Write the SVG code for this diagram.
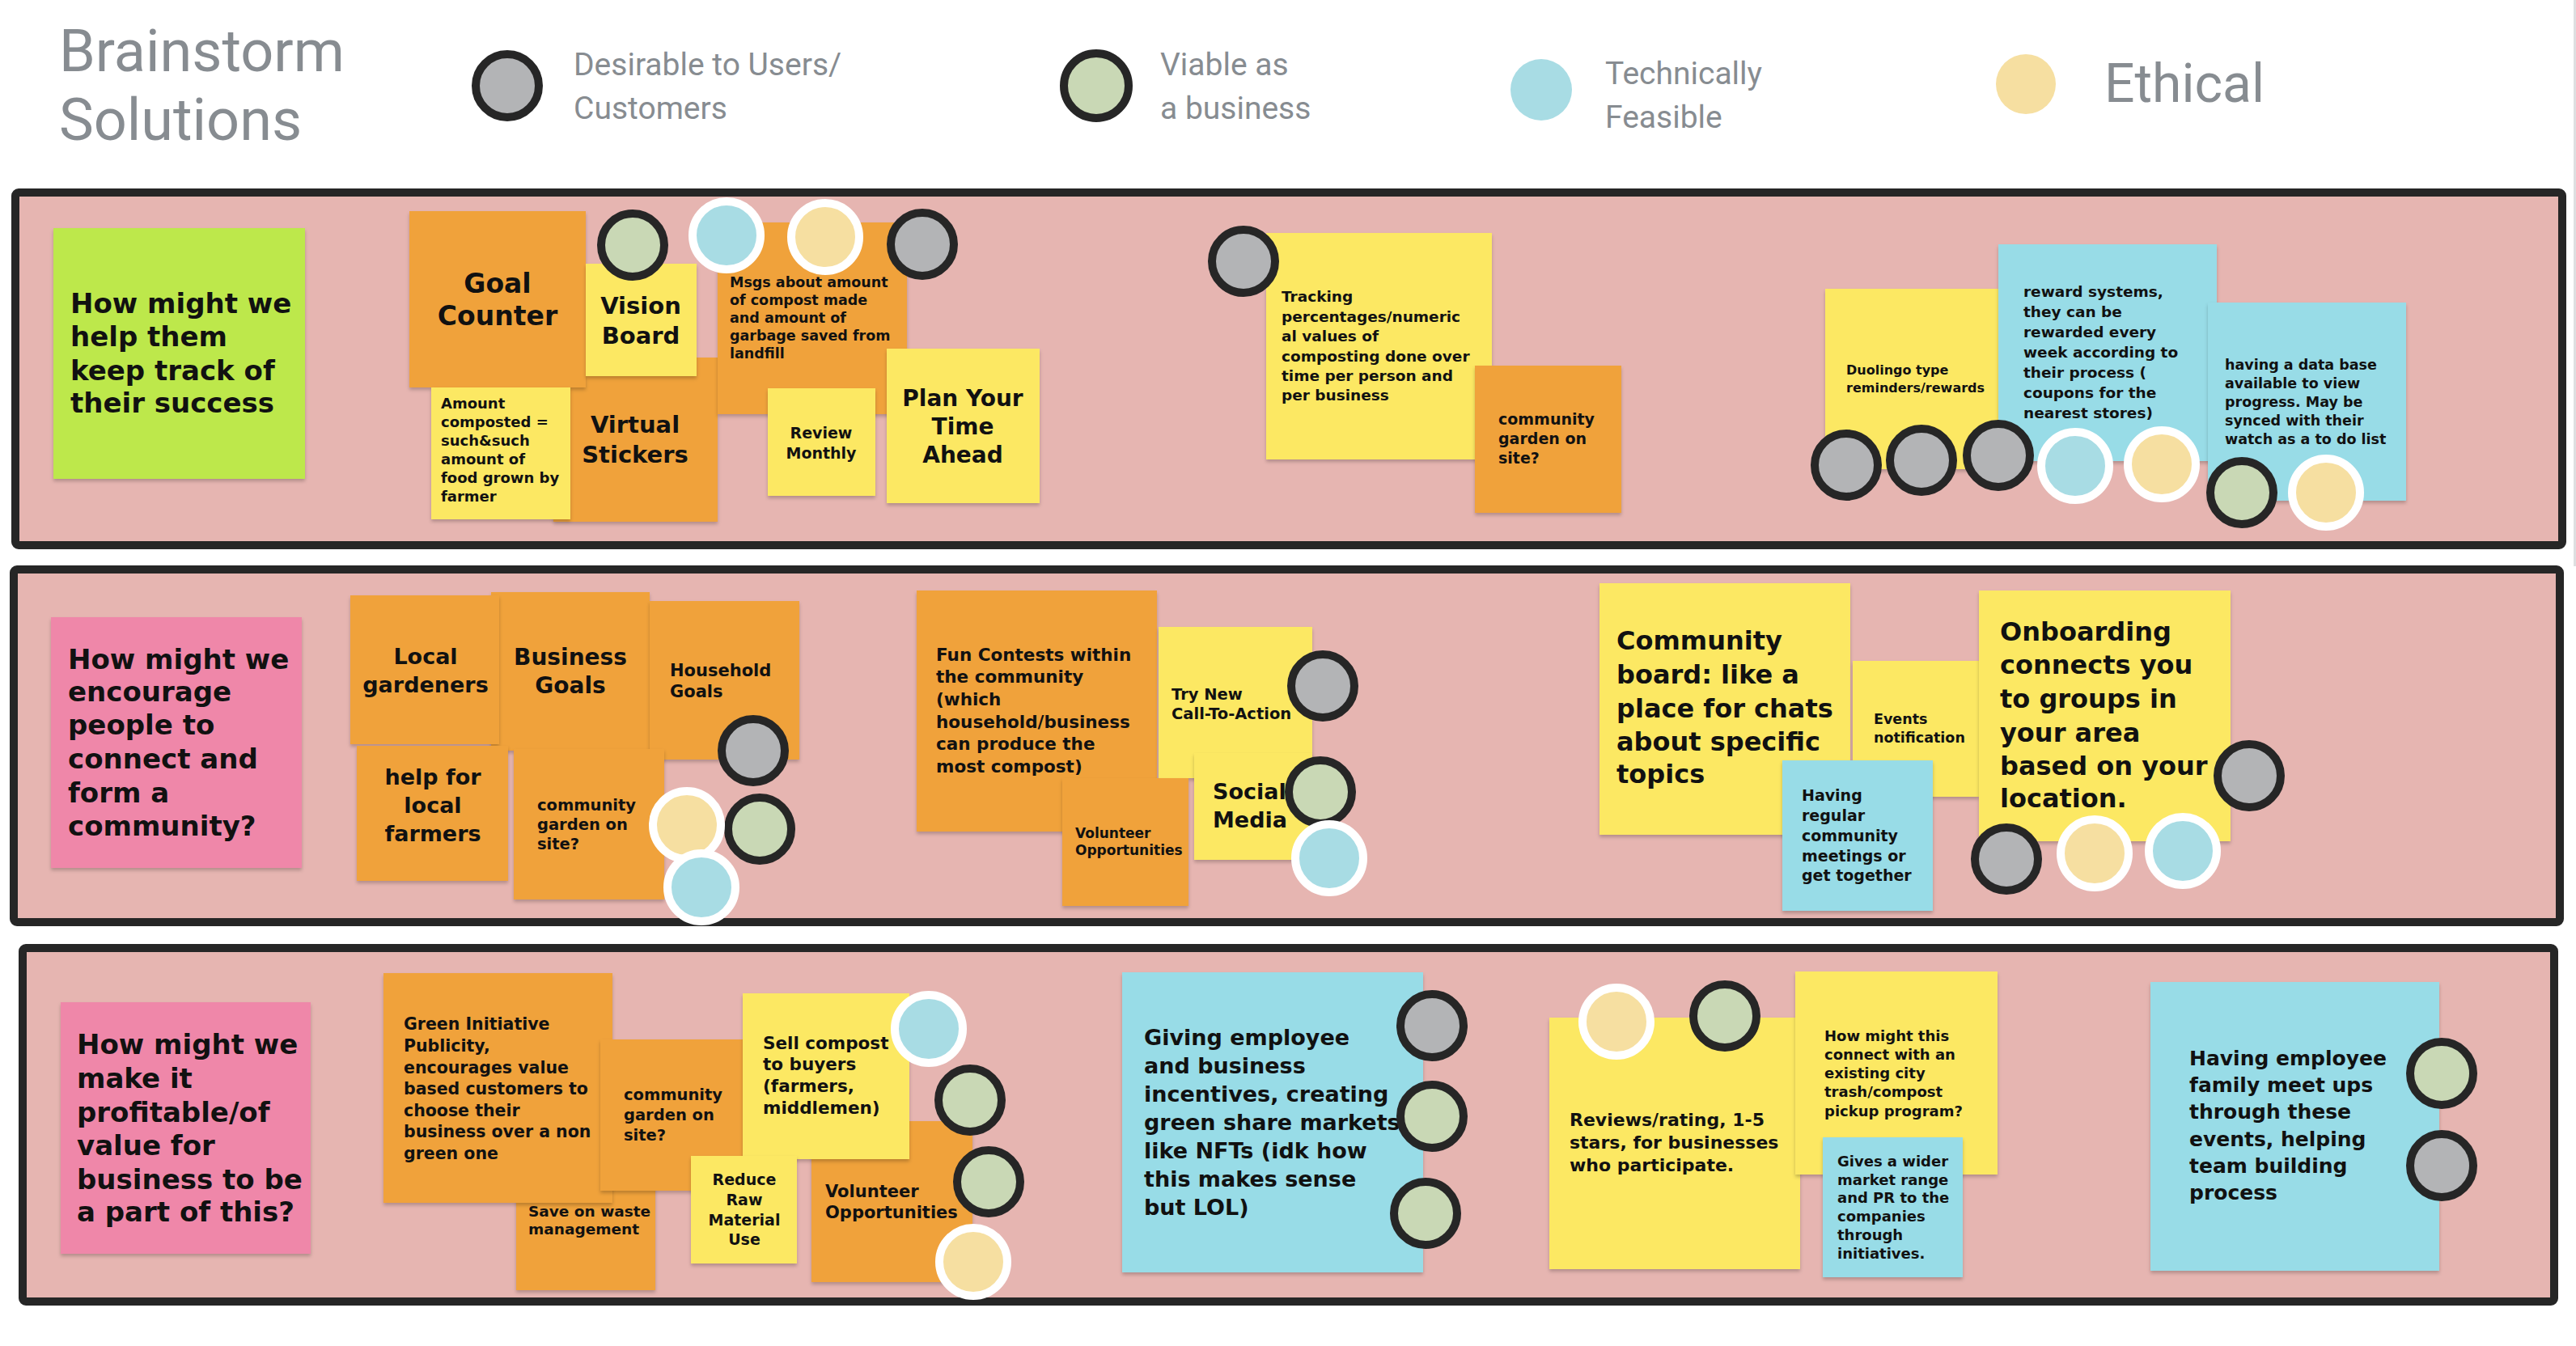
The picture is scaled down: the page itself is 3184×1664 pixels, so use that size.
<svg xmlns="http://www.w3.org/2000/svg" width="3184" height="1664" viewBox="0 0 3184 1664">
<defs>
<filter id="sh" x="-5%" y="-5%" width="110%" height="115%">
<feDropShadow dx="0" dy="3" stdDeviation="2" flood-color="#000" flood-opacity="0.22"/>
</filter>
<style>
.frame{fill:#e6b5b1;stroke:#262626;stroke-width:10}
.n{filter:url(#sh)}
.o{fill:#f0a23b}.y{fill:#fce864}.b{fill:#98dce7}.g{fill:#bde84b}.p{fill:#ef87a9}
.t{font-family:"DejaVu Sans",sans-serif;font-weight:bold;fill:#111}
.c{text-anchor:middle}
.h{font-family:Roboto,"Liberation Sans",sans-serif;fill:#878c91}
.cd{stroke:#262626;stroke-width:10}
.cw{stroke:#fff;stroke-width:10}
.fg{fill:#b3b4b6}.fv{fill:#c9d8b5}.fb{fill:#a8dce4}.fe{fill:#f6dfa1}
</style>
</defs>
<rect width="3184" height="1664" fill="#fff"/>
<line x1="3182.5" y1="0" x2="3182.5" y2="700" stroke="#dedfe1" stroke-width="3"/>

<g id="header">
<text class="h" font-size="72" x="73" y="88">Brainstorm</text>
<text class="h" font-size="72" x="73" y="173">Solutions</text>
<circle class="cd fg" cx="627" cy="106" r="39"/>
<text class="h" font-size="39"><tspan x="709" y="93">Desirable to Users/</tspan><tspan x="709" y="147">Customers</tspan></text>
<circle class="cd fv" cx="1355" cy="106" r="40"/>
<text class="h" font-size="39"><tspan x="1434" y="93">Viable as</tspan><tspan x="1434" y="147">a business</tspan></text>
<circle class="fb" cx="1905" cy="111" r="38"/>
<text class="h" font-size="39"><tspan x="1984" y="104">Technically</tspan><tspan x="1984" y="158">Feasible</tspan></text>
<circle class="fe" cx="2504" cy="104" r="37"/>
<text class="h" font-size="66" x="2601" y="126">Ethical</text>
</g>

<g id="frames">
<rect class="frame" x="19" y="238" width="3148" height="436" rx="4"/>
<rect class="frame" x="17" y="704" width="3147" height="436" rx="4"/>
<rect class="frame" x="28" y="1172" width="3129" height="437" rx="4"/>
</g>

<g id="connectors"></g>

<!-- Row 1 -->
<g id="hmw1"><rect class="n g" x="66" y="282" width="311" height="310"/>
<text class="t" font-size="34"><tspan x="87" y="387">How might we</tspan><tspan x="87" y="428">help them</tspan><tspan x="87" y="470">keep track of</tspan><tspan x="87" y="510">their success</tspan></text></g>
<g id="virtual-stickers"><rect class="n o" x="684" y="442" width="203" height="203"/>
<text class="t c" font-size="29"><tspan x="785" y="535">Virtual</tspan><tspan x="785" y="572">Stickers</tspan></text></g>
<g id="goal-counter"><rect class="n o" x="506" y="261" width="218" height="218"/>
<text class="t c" font-size="33"><tspan x="615" y="362">Goal</tspan><tspan x="615" y="402">Counter</tspan></text></g>
<g id="msgs"><rect class="n o" x="887" y="275" width="234" height="237"/>
<text class="t" font-size="17.5"><tspan x="902" y="355">Msgs about amount</tspan><tspan x="902" y="377">of compost made</tspan><tspan x="902" y="399">and amount of</tspan><tspan x="902" y="421">garbage saved from</tspan><tspan x="902" y="443">landfill</tspan></text></g>
<g id="vision-board"><rect class="n y" x="724" y="326" width="137" height="139"/>
<text class="t c" font-size="29"><tspan x="792" y="388">Vision</tspan><tspan x="792" y="425">Board</tspan></text></g>
<g id="amount"><rect class="n y" x="533" y="479" width="172" height="163"/>
<text class="t" font-size="18"><tspan x="545" y="505">Amount</tspan><tspan x="545" y="528">composted =</tspan><tspan x="545" y="551">such&amp;such</tspan><tspan x="545" y="574">amount of</tspan><tspan x="545" y="597">food grown by</tspan><tspan x="545" y="620">farmer</tspan></text></g>
<g id="review-monthly"><rect class="n y" x="949" y="480" width="133" height="133"/>
<text class="t c" font-size="19"><tspan x="1015" y="542">Review</tspan><tspan x="1015" y="567">Monthly</tspan></text></g>
<g id="plan-ahead"><rect class="n y" x="1096" y="431" width="189" height="191"/>
<text class="t c" font-size="28"><tspan x="1190" y="502">Plan Your</tspan><tspan x="1190" y="537">Time</tspan><tspan x="1190" y="572">Ahead</tspan></text></g>
<g id="tracking"><rect class="n y" x="1565" y="288" width="279" height="280"/>
<text class="t" font-size="18.5"><tspan x="1584" y="373">Tracking</tspan><tspan x="1584" y="398">percentages/numeric</tspan><tspan x="1584" y="422">al values of</tspan><tspan x="1584" y="447">composting done over</tspan><tspan x="1584" y="471">time per person and</tspan><tspan x="1584" y="495">per business</tspan></text></g>
<g id="community-garden-1"><rect class="n o" x="1823" y="452" width="181" height="182"/>
<text class="t" font-size="19"><tspan x="1852" y="525">community</tspan><tspan x="1852" y="549">garden on</tspan><tspan x="1852" y="573">site?</tspan></text></g>
<g id="duolingo"><rect class="n y" x="2256" y="357" width="214" height="223"/>
<text class="t" font-size="16"><tspan x="2282" y="463">Duolingo type</tspan><tspan x="2282" y="485">reminders/rewards</tspan></text></g>
<g id="reward-systems"><rect class="n b" x="2470" y="302" width="270" height="268"/>
<text class="t" font-size="18.5"><tspan x="2501" y="367">reward systems,</tspan><tspan x="2501" y="392">they can be</tspan><tspan x="2501" y="417">rewarded every</tspan><tspan x="2501" y="442">week according to</tspan><tspan x="2501" y="467">their process (</tspan><tspan x="2501" y="492">coupons for the</tspan><tspan x="2501" y="517">nearest stores)</tspan></text></g>
<g id="data-base"><rect class="n b" x="2729" y="374" width="245" height="245"/>
<text class="t" font-size="17.5"><tspan x="2750" y="457">having a data base</tspan><tspan x="2750" y="480">available to view</tspan><tspan x="2750" y="503">progress. May be</tspan><tspan x="2750" y="526">synced with their</tspan><tspan x="2750" y="549">watch as a to do list</tspan></text></g>
<g id="dots-row1">
<circle class="cd fv" cx="782" cy="303" r="39"/>
<circle class="cw fb" cx="898" cy="291" r="42"/>
<circle class="cw fe" cx="1020" cy="293" r="42"/>
<circle class="cd fg" cx="1140" cy="302" r="39"/>
<circle class="cd fg" cx="1537" cy="323" r="39"/>
<circle class="cd fg" cx="2282" cy="575" r="39"/>
<circle class="cd fg" cx="2375" cy="569" r="39"/>
<circle class="cd fg" cx="2470" cy="563" r="39"/>
<circle class="cw fb" cx="2565" cy="576" r="42"/>
<circle class="cw fe" cx="2672" cy="574" r="42"/>
<circle class="cd fv" cx="2771" cy="609" r="39"/>
<circle class="cw fe" cx="2875" cy="609" r="42"/>
</g>

<!-- Row 2 -->
<g id="hmw2"><rect class="n p" x="63" y="763" width="310" height="310"/>
<text class="t" font-size="34"><tspan x="84" y="827">How might we</tspan><tspan x="84" y="867">encourage</tspan><tspan x="84" y="908">people to</tspan><tspan x="84" y="950">connect and</tspan><tspan x="84" y="992">form a</tspan><tspan x="84" y="1033">community?</tspan></text></g>
<g id="business-goals"><rect class="n o" x="607" y="732" width="196" height="196"/>
<text class="t c" font-size="28"><tspan x="705" y="822">Business</tspan><tspan x="705" y="857">Goals</tspan></text></g>
<g id="household-goals"><rect class="n o" x="803" y="743" width="185" height="196"/>
<text class="t" font-size="21"><tspan x="828" y="836">Household</tspan><tspan x="828" y="862">Goals</tspan></text></g>
<g id="local-gardeners"><rect class="n o" x="433" y="736" width="184" height="184"/>
<text class="t c" font-size="27"><tspan x="526" y="821">Local</tspan><tspan x="526" y="856">gardeners</tspan></text></g>
<g id="help-farmers"><rect class="n o" x="441" y="922" width="187" height="167"/>
<text class="t c" font-size="27"><tspan x="535" y="970">help for</tspan><tspan x="535" y="1005">local</tspan><tspan x="535" y="1040">farmers</tspan></text></g>
<g id="community-garden-2"><rect class="n o" x="635" y="926" width="186" height="186"/>
<text class="t" font-size="19.5"><tspan x="664" y="1002">community</tspan><tspan x="664" y="1026">garden on</tspan><tspan x="664" y="1050">site?</tspan></text></g>
<g id="fun-contests"><rect class="n o" x="1133" y="730" width="297" height="298"/>
<text class="t" font-size="21.5"><tspan x="1157" y="817">Fun Contests within</tspan><tspan x="1157" y="844">the community</tspan><tspan x="1157" y="872">(which</tspan><tspan x="1157" y="900">household/business</tspan><tspan x="1157" y="927">can produce the</tspan><tspan x="1157" y="955">most compost)</tspan></text></g>
<g id="try-new"><rect class="n y" x="1432" y="775" width="190" height="187"/>
<text class="t" font-size="19.5"><tspan x="1448" y="865">Try New</tspan><tspan x="1448" y="889">Call-To-Action</tspan></text></g>
<g id="social-media"><rect class="n y" x="1476" y="931" width="146" height="132"/>
<text class="t" font-size="27"><tspan x="1499" y="988">Social</tspan><tspan x="1499" y="1023">Media</tspan></text></g>
<g id="volunteer-2"><rect class="n o" x="1313" y="962" width="156" height="158"/>
<text class="t" font-size="17"><tspan x="1329" y="1036">Volunteer</tspan><tspan x="1329" y="1057">Opportunities</tspan></text></g>
<g id="community-board"><rect class="n y" x="1977" y="721" width="310" height="311"/>
<text class="t" font-size="32"><tspan x="1998" y="803">Community</tspan><tspan x="1998" y="845">board: like a</tspan><tspan x="1998" y="887">place for chats</tspan><tspan x="1998" y="928">about specific</tspan><tspan x="1998" y="968">topics</tspan></text></g>
<g id="events"><rect class="n y" x="2290" y="817" width="156" height="168"/>
<text class="t" font-size="17.5"><tspan x="2316" y="895">Events</tspan><tspan x="2316" y="918">notification</tspan></text></g>
<g id="meetings"><rect class="n b" x="2203" y="940" width="186" height="186"/>
<text class="t" font-size="19"><tspan x="2227" y="990">Having</tspan><tspan x="2227" y="1015">regular</tspan><tspan x="2227" y="1040">community</tspan><tspan x="2227" y="1065">meetings or</tspan><tspan x="2227" y="1089">get together</tspan></text></g>
<g id="onboarding"><rect class="n y" x="2446" y="730" width="311" height="310"/>
<text class="t" font-size="32"><tspan x="2472" y="792">Onboarding</tspan><tspan x="2472" y="833">connects you</tspan><tspan x="2472" y="875">to groups in</tspan><tspan x="2472" y="917">your area</tspan><tspan x="2472" y="958">based on your</tspan><tspan x="2472" y="998">location.</tspan></text></g>
<g id="dots-row2">
<circle class="cd fg" cx="931" cy="928" r="39"/>
<circle class="cd fv" cx="939" cy="1025" r="39"/>
<circle class="cw fe" cx="849" cy="1020" r="42"/>
<circle class="cw fb" cx="867" cy="1097" r="42"/>
<circle class="cd fg" cx="1635" cy="848" r="39"/>
<circle class="cd fv" cx="1632" cy="979" r="39"/>
<circle class="cw fb" cx="1643" cy="1061" r="42"/>
<circle class="cd fg" cx="2780" cy="959" r="39"/>
<circle class="cd fg" cx="2480" cy="1062" r="39"/>
<circle class="cw fe" cx="2589" cy="1055" r="42"/>
<circle class="cw fb" cx="2698" cy="1052" r="42"/>
</g>

<!-- Row 3 -->
<g id="hmw3"><rect class="n p" x="75" y="1239" width="309" height="311"/>
<text class="t" font-size="34"><tspan x="95" y="1303">How might we</tspan><tspan x="95" y="1345">make it</tspan><tspan x="95" y="1387">profitable/of</tspan><tspan x="95" y="1428">value for</tspan><tspan x="95" y="1470">business to be</tspan><tspan x="95" y="1510">a part of this?</tspan></text></g>
<g id="save-waste"><rect class="n o" x="638" y="1422" width="172" height="173"/>
<text class="t" font-size="18.5"><tspan x="653" y="1504">Save on waste</tspan><tspan x="653" y="1526">management</tspan></text></g>
<g id="green-initiative"><rect class="n o" x="474" y="1203" width="283" height="284"/>
<text class="t" font-size="20.5"><tspan x="499" y="1273">Green Initiative</tspan><tspan x="499" y="1300">Publicity,</tspan><tspan x="499" y="1327">encourages value</tspan><tspan x="499" y="1353">based customers to</tspan><tspan x="499" y="1380">choose their</tspan><tspan x="499" y="1406">business over a non</tspan><tspan x="499" y="1433">green one</tspan></text></g>
<g id="community-garden-3"><rect class="n o" x="742" y="1285" width="185" height="187"/>
<text class="t" font-size="19.5"><tspan x="771" y="1360">community</tspan><tspan x="771" y="1385">garden on</tspan><tspan x="771" y="1410">site?</tspan></text></g>
<g id="volunteer-3"><rect class="n o" x="1003" y="1386" width="199" height="199"/>
<text class="t" font-size="21"><tspan x="1020" y="1480">Volunteer</tspan><tspan x="1020" y="1506">Opportunities</tspan></text></g>
<g id="sell-compost"><rect class="n y" x="918" y="1228" width="206" height="205"/>
<text class="t" font-size="21.5"><tspan x="943" y="1297">Sell compost</tspan><tspan x="943" y="1323">to buyers</tspan><tspan x="943" y="1350">(farmers,</tspan><tspan x="943" y="1377">middlemen)</tspan></text></g>
<g id="reduce-raw"><rect class="n y" x="854" y="1429" width="131" height="133"/>
<text class="t c" font-size="19"><tspan x="920" y="1465">Reduce</tspan><tspan x="920" y="1490">Raw</tspan><tspan x="920" y="1515">Material</tspan><tspan x="920" y="1539">Use</tspan></text></g>
<g id="giving-employee"><rect class="n b" x="1387" y="1202" width="372" height="371"/>
<text class="t" font-size="27"><tspan x="1414" y="1292">Giving employee</tspan><tspan x="1414" y="1327">and business</tspan><tspan x="1414" y="1362">incentives, creating</tspan><tspan x="1414" y="1397">green share markets</tspan><tspan x="1414" y="1432">like NFTs (idk how</tspan><tspan x="1414" y="1467">this makes sense</tspan><tspan x="1414" y="1502">but LOL)</tspan></text></g>
<g id="reviews"><rect class="n y" x="1915" y="1258" width="310" height="311"/>
<text class="t" font-size="22"><tspan x="1940" y="1392">Reviews/rating, 1-5</tspan><tspan x="1940" y="1420">stars, for businesses</tspan><tspan x="1940" y="1448">who participate.</tspan></text></g>
<g id="city-program"><rect class="n y" x="2219" y="1201" width="250" height="251"/>
<text class="t" font-size="18"><tspan x="2255" y="1287">How might this</tspan><tspan x="2255" y="1310">connect with an</tspan><tspan x="2255" y="1333">existing city</tspan><tspan x="2255" y="1356">trash/compost</tspan><tspan x="2255" y="1380">pickup program?</tspan></text></g>
<g id="wider-market"><rect class="n b" x="2253" y="1406" width="173" height="173"/>
<text class="t" font-size="18"><tspan x="2271" y="1442">Gives a wider</tspan><tspan x="2271" y="1465">market range</tspan><tspan x="2271" y="1487">and PR to the</tspan><tspan x="2271" y="1510">companies</tspan><tspan x="2271" y="1533">through</tspan><tspan x="2271" y="1556">initiatives.</tspan></text></g>
<g id="family-meetups"><rect class="n b" x="2658" y="1214" width="357" height="357"/>
<text class="t" font-size="25"><tspan x="2706" y="1317">Having employee</tspan><tspan x="2706" y="1350">family meet ups</tspan><tspan x="2706" y="1383">through these</tspan><tspan x="2706" y="1417">events, helping</tspan><tspan x="2706" y="1450">team building</tspan><tspan x="2706" y="1483">process</tspan></text></g>
<g id="dots-row3">
<circle class="cw fb" cx="1148" cy="1272" r="42"/>
<circle class="cd fv" cx="1199" cy="1360" r="39"/>
<circle class="cd fv" cx="1222" cy="1461" r="39"/>
<circle class="cw fe" cx="1203" cy="1560" r="42"/>
<circle class="cd fg" cx="1770" cy="1268" r="39"/>
<circle class="cd fv" cx="1770" cy="1380" r="39"/>
<circle class="cd fv" cx="1762" cy="1500" r="39"/>
<circle class="cw fe" cx="1998" cy="1263" r="42"/>
<circle class="cd fv" cx="2132" cy="1256" r="39"/>
<circle class="cd fv" cx="3018" cy="1327" r="39"/>
<circle class="cd fg" cx="3018" cy="1441" r="39"/>
</g>
</svg>
